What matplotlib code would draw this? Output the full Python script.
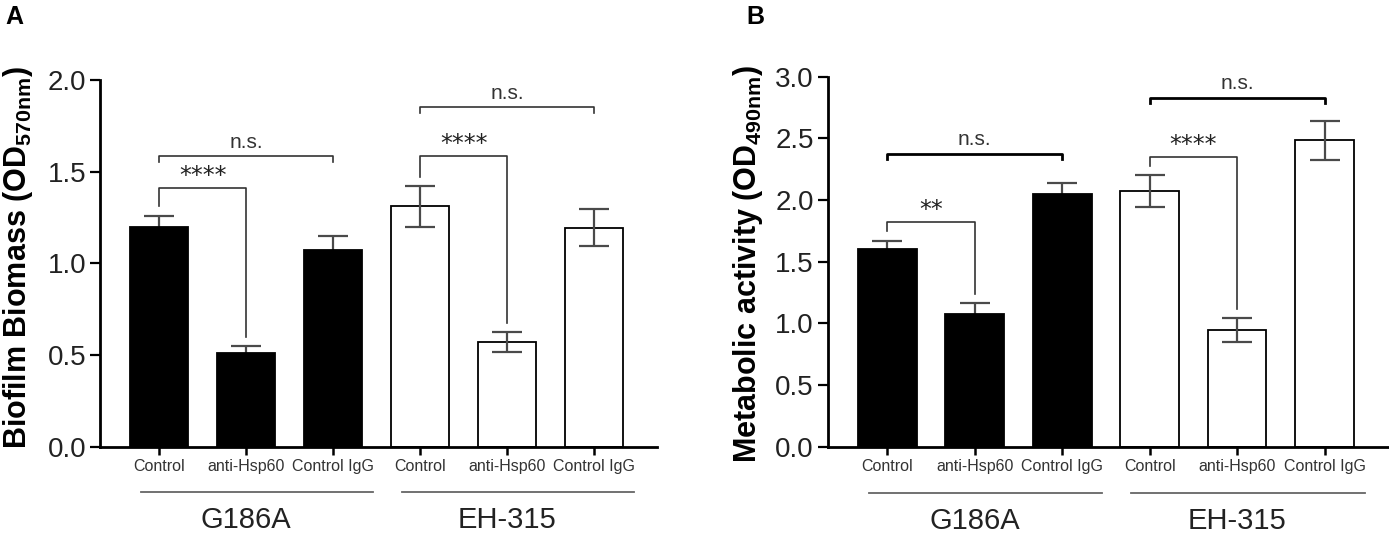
import matplotlib
matplotlib.use('Agg')
import matplotlib.pyplot as plt
from matplotlib import font_manager
from matplotlib.ticker import FormatStrFormatter, MultipleLocator

# bar categories and groups
conditions = ['Control', 'anti-Hsp60', 'Control IgG']
strains = ['G186A', 'EH-315']

# panel A: biofilm biomass (OD570nm), mean and error
biomass_mean = [1.20, 0.51, 1.07, 1.31, 0.57, 1.195]
biomass_err = [0.06, 0.04, 0.08, 0.11, 0.053, 0.10]

# panel B: metabolic activity (OD490nm)
metab_mean = [1.60, 1.075, 2.05, 2.075, 0.945, 2.485]
metab_err = [0.07, 0.09, 0.085, 0.13, 0.10, 0.16]

# significance brackets: (bar i, bar j, height, label)
biomass_sig = [(0, 1, 1.41, '****'), (0, 2, 1.585, 'n.s.'),
               (3, 4, 1.585, '****'), (3, 5, 1.85, 'n.s.')]
metab_sig = [(0, 1, 1.82, '**'), (0, 2, 2.375, 'n.s.'),
             (3, 4, 2.35, '****'), (3, 5, 2.83, 'n.s.')]

names = {f.name for f in font_manager.fontManager.ttflist}
narrow = 'Liberation Sans Narrow' if 'Liberation Sans Narrow' in names else 'Liberation Sans'
plt.rcParams['font.family'] = 'Liberation Sans'
plt.rcParams['mathtext.fontset'] = 'custom'
plt.rcParams['mathtext.rm'] = 'Liberation Sans'
plt.rcParams['mathtext.bf'] = 'Liberation Sans:bold'

GRAY = '#4a4a4a'


def draw_panel(ax, means, errs, ymax, ylabel, sigs):
    n = len(means)
    x = list(range(n))
    ngrp = len(conditions)
    for k in range(n):
        black = k < ngrp
        ax.bar(x[k], means[k], width=0.67, color='black' if black else 'white',
               edgecolor='black', linewidth=1.3, zorder=2)
        ax.errorbar(x[k], means[k], yerr=errs[k], fmt='none', ecolor=GRAY,
                    elinewidth=1.6, capsize=10.5, capthick=1.6,
                    zorder=1 if black else 3)

    ax.set_xlim(-0.68, n - 1 + 0.72)
    ax.set_ylim(0, ymax)
    ax.yaxis.set_major_locator(MultipleLocator(0.5))
    ax.yaxis.set_major_formatter(FormatStrFormatter('%.1f'))
    ax.spines['top'].set_visible(False)
    ax.spines['right'].set_visible(False)
    ax.spines['left'].set_linewidth(2.0)
    ax.spines['bottom'].set_linewidth(2.0)
    ax.tick_params(axis='y', length=7, width=1.6, labelsize=20, pad=3,
                   labelcolor='#222222')
    ax.tick_params(axis='x', length=6, width=1.8, pad=3)
    ax.set_xticks(x)
    ax.set_xticklabels(conditions * len(strains), fontsize=11.5,
                       family=narrow, color='#333333')
    ax.set_ylabel(ylabel, fontsize=22, fontweight='bold')

    # group lines and strain names under the axis
    tr = ax.get_xaxis_transform()
    for g, name in enumerate(strains):
        first = g * ngrp
        last = first + ngrp - 1
        ax.plot([first - 0.21, last + 0.46], [-0.124, -0.124], color='#666666',
                lw=1.3, transform=tr, clip_on=False)
        ax.text(first + 1, -0.2, name, transform=tr, ha='center', va='center',
                fontsize=21, color='#222222')

    # significance brackets
    gap = 0.025 * ymax
    for i, j, h, lab in sigs:
        if lab == 'n.s.':
            yi = yj = h - 0.015 * ymax
        else:
            yi = means[i] + errs[i] + gap
            yj = means[j] + errs[j] + gap
        thick = lab == 'n.s.' and ymax > 2
        ax.plot([x[i], x[i], x[j], x[j]], [yi, h, h, yj],
                color='black' if thick else '#333333',
                lw=2.0 if thick else 1.2, zorder=4)
        if lab == 'n.s.':
            ax.text((x[i] + x[j]) / 2, h + 0.012 * ymax, lab, ha='center',
                    va='bottom', fontsize=15, color='#333333')
        else:
            ax.text((x[i] + x[j]) / 2, h + 0.0 * ymax, lab, ha='center',
                    va='bottom', fontsize=17, family='DejaVu Sans',
                    color='#222222')


fig = plt.figure(figsize=(13.89, 5.33), dpi=100)
axA = fig.add_axes([0.072, 0.162, 0.401, 0.688])
axB = fig.add_axes([0.596, 0.162, 0.403, 0.694])

draw_panel(axA, biomass_mean, biomass_err, 2.0,
           r'Biofilm Biomass (OD$_{\mathbf{570nm}}$)', biomass_sig)
draw_panel(axB, metab_mean, metab_err, 3.0,
           r'Metabolic activity (OD$_{\mathbf{490nm}}$)', metab_sig)
axA.yaxis.set_label_coords(-0.116, 0.515)
axB.yaxis.set_label_coords(-0.112, 0.495)

fig.text(0.004, 0.99, 'A', fontsize=18, fontweight='bold', va='top')
fig.text(0.537, 0.99, 'B', fontsize=18, fontweight='bold', va='top')

fig.savefig('out.png', dpi=100)
